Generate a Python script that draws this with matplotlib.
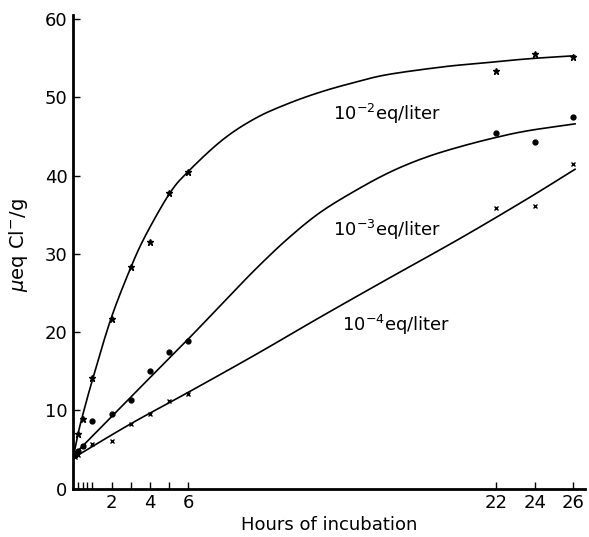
import matplotlib.pyplot as plt
import numpy as np

# measured points (hours, ueq Cl-/g)
hours = [0.1, 0.25, 0.5, 1, 2, 3, 4, 5, 6, 22, 24, 26]
conc_2 = [4.4, 7.0, 8.9, 14.1, 21.7, 28.3, 31.5, 37.8, 40.4, 53.4, 55.5, 55.2]
conc_3 = [4.4, 4.8, 5.5, 8.7, 9.5, 11.3, 15.0, 17.5, 18.8, 45.4, 44.3, 47.5]
conc_4 = [4.0, 4.3, 5.4, 5.7, 6.1, 8.3, 9.6, 11.2, 12.1, 35.8, 36.1, 41.5]

# hand drawn curves, knots
curve2_x = [0.05, 0.25, 0.48, 1.02, 1.97, 3.01, 3.78, 4.99, 5.90, 7.74,
            9.47, 11.19, 12.91, 14.64, 16.36, 19.29, 21.0, 23.6, 26.07]
curve2_y = [4.5, 6.9, 9.2, 14.0, 21.7, 28.3, 32.4, 37.6, 40.3, 44.5,
            47.3, 49.2, 50.7, 51.9, 52.9, 53.9, 54.3, 54.9, 55.3]
curve3_x = [0.08, 3.0, 6.02, 7.74, 9.47, 11.19, 12.91, 14.98, 16.7, 18.42,
            20.14, 21.87, 23.59, 26.09]
curve3_y = [4.4, 11.7, 19.2, 23.6, 28.0, 32.0, 35.4, 38.5, 40.7, 42.4,
            43.7, 44.8, 45.7, 46.6]
curve4_x = [0.13, 3.01, 5.98, 9.47, 12.91, 16.36, 20.14, 23.59, 26.09]
curve4_y = [4.1, 8.3, 12.3, 17.1, 22.0, 26.8, 32.0, 37.0, 40.8]

labels = ['10$^{-2}$eq/liter', '10$^{-3}$eq/liter', '10$^{-4}$eq/liter']


def smooth(xs, ys, n=12):
    # catmull-rom through the knots, only to draw the pen line smoothly
    p = np.column_stack([xs, ys]).astype(float)
    p = np.vstack([2 * p[0] - p[1], p, 2 * p[-1] - p[-2]])
    out = []
    t = np.linspace(0, 1, n, endpoint=False)[:, None]
    for i in range(1, len(p) - 2):
        p0, p1, p2, p3 = p[i - 1], p[i], p[i + 1], p[i + 2]
        seg = 0.5 * (2 * p1 + (-p0 + p2) * t + (2 * p0 - 5 * p1 + 4 * p2 - p3) * t ** 2
                     + (-p0 + 3 * p1 - 3 * p2 + p3) * t ** 3)
        out.append(seg)
    out.append(p[-2][None, :])
    out = np.vstack(out)
    return out[:, 0], out[:, 1]


fig = plt.figure(figsize=(5.89, 5.37), dpi=100)
ax = fig.add_axes([0.124, 0.09, 0.869, 0.882])

for cx, cy in [(curve2_x, curve2_y), (curve3_x, curve3_y), (curve4_x, curve4_y)]:
    sx, sy = smooth(cx, cy)
    ax.plot(sx, sy, color='black', lw=1.2)

ax.plot(hours, conc_2, ls='none', marker='*', ms=5, color='black')
ax.plot(hours, conc_3, ls='none', marker='o', ms=3.5, color='black')
ax.plot(hours, conc_4, ls='none', marker='x', ms=3.5, mew=1, color='black')

ax.text(13.5, 47.9, labels[0], fontsize=13, va='center')
ax.text(13.5, 33.1, labels[1], fontsize=13, va='center')
ax.text(14.0, 20.9, labels[2], fontsize=13, va='center')

ax.set_xlim(0, 26.6)
ax.set_ylim(0, 60.5)
ax.spines['top'].set_visible(False)
ax.spines['right'].set_visible(False)
ax.spines['left'].set_linewidth(2)
ax.spines['bottom'].set_linewidth(2)

xt = [0.25, 0.5, 0.75, 1, 2, 3, 4, 5, 6, 22, 24, 26]
ax.set_xticks(xt)
ax.set_xticklabels([str(t) if t in (2, 4, 6, 22, 24, 26) else '' for t in xt])
ax.set_yticks(np.arange(0, 61, 10))
ax.tick_params(direction='in', length=5, width=1, labelsize=13)
ax.tick_params(axis='y', pad=4)

ax.set_xlabel('Hours of incubation', fontsize=13, labelpad=3)
ax.set_ylabel(r'$\mu$eq Cl$^{-}$/g', fontsize=14)
ax.yaxis.set_label_coords(-0.085, 0.515)

fig.savefig('out.png', dpi=100)
